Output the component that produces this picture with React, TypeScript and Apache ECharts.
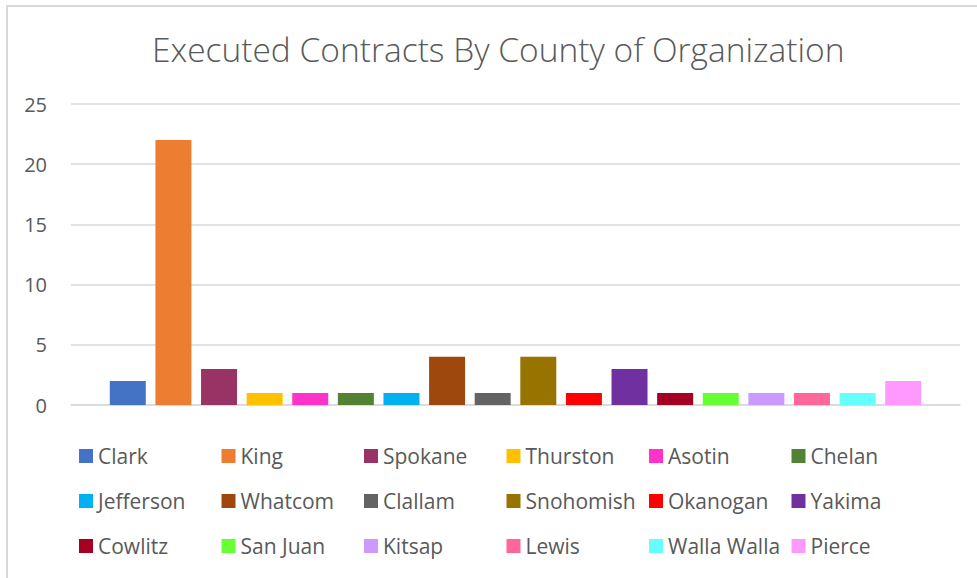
import React, { useEffect, useRef } from "react";
import * as echarts from "echarts";

const counties = [
  "Clark", "King", "Spokane", "Thurston", "Asotin", "Chelan",
  "Jefferson", "Whatcom", "Clallam", "Snohomish", "Okanogan", "Yakima",
  "Cowlitz", "San Juan", "Kitsap", "Lewis", "Walla Walla", "Pierce",
];
const contracts = [2, 22, 3, 1, 1, 1, 1, 4, 1, 4, 1, 3, 1, 1, 1, 1, 1, 2];
const colors = [
  "#4472C4", "#ED7D31", "#993366", "#FFC000", "#FF33CC", "#548235",
  "#00B0F0", "#9E480E", "#636363", "#997300", "#FF0000", "#7030A0",
  "#A50021", "#66FF33", "#CC99FF", "#FF6699", "#66FFFF", "#FF99FF",
];
const yTicks = [0, 5, 10, 15, 20, 25];
const category = ["Contracts"];

const FONT = "'Open Sans', 'Noto Sans', sans-serif";

export default function App() {
  const ref = useRef<HTMLDivElement>(null);
  useEffect(() => {
    document.body.style.margin = "0";
    const chart = echarts.init(ref.current!, undefined, { renderer: "svg" });
    chart.setOption({
      animation: false,
      backgroundColor: "#ffffff",
      title: {
        text: "Executed Contracts By County of Organization",
        left: 147,
        top: 27,
        textStyle: { fontFamily: FONT, fontSize: 33.5, fontWeight: 300, color: "#595959" },
      },
      graphic: [
        {
          type: "rect",
          shape: { x: 7, y: 6, width: 1000, height: 620 },
          style: { fill: "none", stroke: "#d9d9d9", lineWidth: 2 },
          silent: true,
        },
      ],
      legend: counties.map((name, i) => ({
        left: 79 + (i % 6) * 142.5,
        top: 445 + Math.floor(i / 6) * 45,
        orient: "horizontal",
        padding: 0,
        itemWidth: 14,
        itemHeight: 14,
        itemGap: 0,
        icon: "rect",
        data: [name],
        textStyle: { fontFamily: FONT, fontSize: 21, lineHeight: 22, color: "#595959", padding: [0, 0, 0, 0] },
      })),
      grid: { left: 71, right: 17, top: 104, bottom: 173, containLabel: false },
      xAxis: {
        type: "category",
        data: category,
        axisLine: { show: true, lineStyle: { color: "#d9d9d9", width: 1.5 } },
        axisTick: { show: false },
        axisLabel: { show: false },
      },
      yAxis: {
        type: "value",
        min: yTicks[0],
        max: yTicks[yTicks.length - 1],
        interval: 5,
        axisLine: { show: false },
        axisTick: { show: false },
        axisLabel: { fontFamily: FONT, fontSize: 20, color: "#595959", margin: 24 },
        splitLine: { lineStyle: { color: "#d9d9d9", width: 1.5 } },
      },
      series: counties.map((name, i) => ({
        name,
        type: "bar",
        data: [contracts[i]],
        barWidth: 36,
        barGap: "26.7%",
        itemStyle: { color: colors[i] },
      })),
    });
    return () => chart.dispose();
  }, []);
  return <div ref={ref} style={{ width: 977, height: 578 }} />;
}
